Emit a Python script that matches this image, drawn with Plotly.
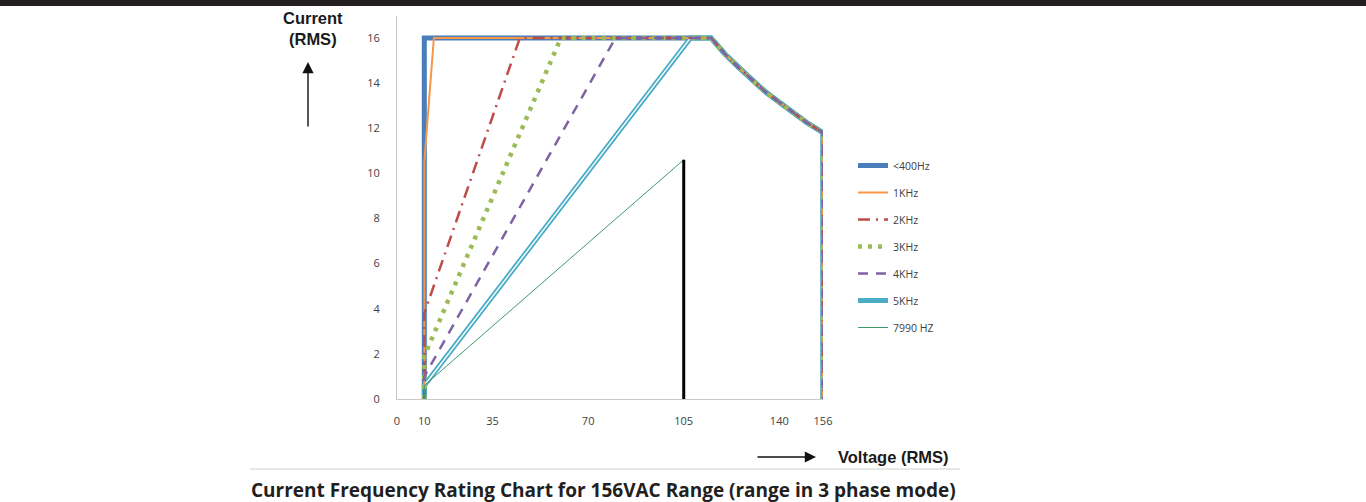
import plotly.graph_objects as go

# ---------------- data ----------------
series_names = ["<400Hz", "1KHz", "2KHz", "3KHz", "4KHz", "5KHz"]
start_voltage = 10                     # all limits begin at 10 V
knee_current = [16, 10.5, 3.8, 1.9, 1.0, 0.6]      # current at 10 V
knee_voltage = [10, 13.5, 45, 60, 80, 107.5]       # voltage where 16 A is reached
# constant-power limit section (shared by all series)
curve_v = [115, 120, 125, 130, 135, 140, 145, 150, 156]
curve_i = [16.0, 15.3, 14.7, 14.15, 13.6, 13.15, 12.7, 12.25, 11.8]
end_voltage = 156

hz7990_v = [10, 10, 105]
hz7990_i = [0, 0.6, 10.6]
marker_v = [105, 105]
marker_i = [10.6, 0]

x_tickvals = [0, 10, 35, 70, 105, 140, 156]
y_tickvals = [0, 2, 4, 6, 8, 10, 12, 14, 16]

# ---------------- styles ----------------
colors = ["#4a7ebb", "#f79646", "#be4b48", "#9bbb59", "#7e62a1", "#4bacc6"]
widths = [5, 2, 2.5, 4.5, 2.5, 5]
dashes = ["solid", "solid", "12px,6px,2px,6px", "4px,6px", "10px,8px", "solid"]
# drawing order (bottom -> top): blue, teal, orange, red, green, purple
draw_order = [0, 5, 1, 2, 3, 4]

W, H = 1366, 502
L, R, T, B = 397, 823, 16, 399   # plot area in pixels


def px(xp):
    return (xp - L) / (R - L)


def py(yp):
    return (B - yp) / (B - T)


def series_xy(k):
    xs = [start_voltage, start_voltage, knee_voltage[k]] + curve_v + [end_voltage]
    ys = [0, knee_current[k], 16] + curve_i + [0]
    return xs, ys


fig = go.Figure()
for k in draw_order:
    xs, ys = series_xy(k)
    fig.add_trace(go.Scatter(
        x=xs, y=ys, mode="lines", name=series_names[k],
        line=dict(color=colors[k], width=widths[k], dash=dashes[k]),
        legendgroup=series_names[k], legendrank=k + 1,
        hoverinfo="skip"))
    if series_names[k] == "5KHz":
        # white core to give the double-line look on the slanted part
        fig.add_trace(go.Scatter(
            x=xs[1:3], y=ys[1:3], mode="lines", showlegend=False,
            line=dict(color="white", width=1.4), hoverinfo="skip"))

fig.add_trace(go.Scatter(
    x=hz7990_v, y=hz7990_i, mode="lines", name="7990 HZ",
    line=dict(color="#3a9c6c", width=1), legendgroup="7990", legendrank=7,
    hoverinfo="skip"))
fig.add_trace(go.Scatter(
    x=marker_v, y=marker_i, mode="lines", showlegend=False,
    line=dict(color="#000000", width=3), hoverinfo="skip"))

axis_font = dict(family="Open Sans, sans-serif", size=11, color="#404040")

fig.update_layout(
    width=W, height=H,
    margin=dict(l=L, r=W - R, t=T, b=H - B, pad=0),
    paper_bgcolor="white", plot_bgcolor="white",
    showlegend=True,
    legend=dict(x=px(853), y=py(151), xanchor="left", yanchor="top",
                font=dict(family="Open Sans, sans-serif", size=10.5, color="#404040"),
                traceorder="grouped", tracegroupgap=8,
                bgcolor="rgba(0,0,0,0)"),
    xaxis=dict(range=[0, 156], tickvals=x_tickvals, ticktext=[str(v) for v in x_tickvals],
               showgrid=False, zeroline=False, showline=True, linecolor="#c8c8c8",
               linewidth=1, ticks="", tickfont=axis_font, ticklabelstandoff=12),
    yaxis=dict(range=[0, 16.97], tickvals=y_tickvals, ticktext=[str(v) for v in y_tickvals],
               showgrid=False, zeroline=False, showline=True, linecolor="#c8c8c8",
               linewidth=1, ticks="", tickfont=axis_font, ticklabelstandoff=14),
)

# top dark band
fig.add_shape(type="rect", xref="paper", yref="paper",
              x0=px(0), x1=px(W), y0=py(0), y1=py(6),
              fillcolor="#231f20", line=dict(width=0), layer="above")
# separator line above caption
fig.add_shape(type="line", xref="paper", yref="paper",
              x0=px(250), x1=px(960), y0=py(469), y1=py(469),
              line=dict(color="#d0d0d0", width=1))

# axis titles and arrows
fig.add_annotation(xref="paper", yref="paper", x=px(313), y=py(7),
                   xanchor="center", yanchor="top", showarrow=False,
                   text="<b>Current<br>(RMS)</b>", align="center",
                   font=dict(family="Liberation Sans, Arial, sans-serif", size=16.5, color="#1a1a1a"))
fig.add_annotation(xref="paper", yref="paper", x=px(308), y=py(62),
                   ax=0, ay=66, axref="pixel", ayref="pixel",
                   showarrow=True, arrowhead=2, arrowsize=1.6, arrowwidth=1.4,
                   arrowcolor="#111", text="")
fig.add_annotation(xref="paper", yref="paper", x=px(816), y=py(457),
                   ax=-60, ay=0, axref="pixel", ayref="pixel",
                   showarrow=True, arrowhead=2, arrowsize=1.6, arrowwidth=1.4,
                   arrowcolor="#111", text="")
fig.add_annotation(xref="paper", yref="paper", x=px(836), y=py(457),
                   xanchor="left", yanchor="middle", showarrow=False,
                   text="<b>Voltage (RMS)</b>",
                   font=dict(family="Liberation Sans, Arial, sans-serif", size=16.5, color="#1a1a1a"))
# caption
fig.add_annotation(xref="paper", yref="paper", x=px(249), y=py(490),
                   xanchor="left", yanchor="middle", showarrow=False,
                   text="<b>Current Frequency Rating Chart for 156VAC Range (range in 3 phase mode)</b>",
                   font=dict(family="Open Sans, sans-serif", size=19, color="#231f20"))

fig.write_html("out.html", config={"displayModeBar": False},
               post_script="document.body.style.margin='0';document.body.style.overflow='hidden';")
